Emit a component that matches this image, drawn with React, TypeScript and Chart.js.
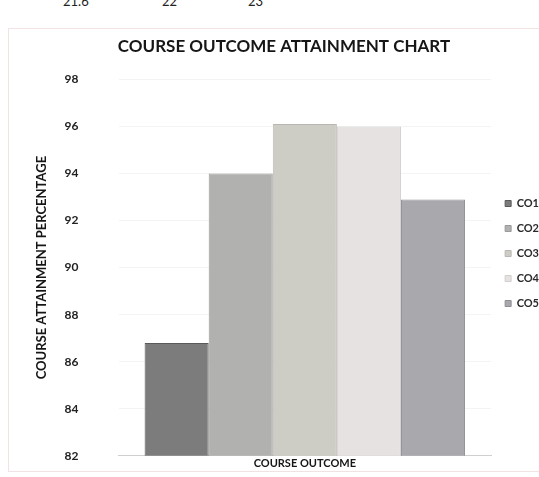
import React, { useEffect, useRef } from "react";
import { Chart, registerables } from "chart.js";

Chart.register(...registerables);

const categories = [""];
const seriesNames = ["CO1", "CO2", "CO3", "CO4", "CO5"];
const co1 = [86.8];
const co2 = [94.0];
const co3 = [96.1];
const co4 = [96.0];
const co5 = [92.9];
const seriesValues = [co1, co2, co3, co4, co5];
const seriesColors = ["#7c7c7c", "#b1b1af", "#cdcdc5", "#e6e2e2", "#a8a8ad"];
const seriesBorders = ["#5a5a5a", "#9a9a9a", "#b8b8b2", "#d2cece", "#8e8e94"];
const yMin = 82;
const yMax = 98;
const yStep = 2;
const topNumbers = ["21.6", "22", "23"];
const topNumberX = [63, 162, 248];

const chartTitle = "COURSE OUTCOME ATTAINMENT CHART";
const xTitle = "COURSE OUTCOME";
const yTitle = "COURSE ATTAINMENT PERCENTAGE";
const FONT = "Lato, 'Open Sans', sans-serif";

export default function App() {
  const canvasRef = useRef<HTMLCanvasElement | null>(null);

  useEffect(() => {
    document.body.style.margin = "0";
    const canvas = canvasRef.current;
    if (!canvas) return;
    const chart = new Chart(canvas, {
      type: "bar",
      data: {
        labels: categories,
        datasets: seriesNames.map((name, i) => ({
          label: name,
          data: seriesValues[i],
          backgroundColor: seriesColors[i],
          borderColor: seriesBorders[i],
          borderWidth: 1,
          barPercentage: 1,
          categoryPercentage: 0.86,
        })),
      },
      options: {
        animation: false,
        responsive: false,
        layout: { padding: { left: 10, right: 14, top: 0, bottom: 1 } },
        plugins: {
          title: {
            display: true,
            text: chartTitle,
            color: "#161616",
            font: { family: FONT, size: 17, weight: "bold" },
            padding: { top: 7, bottom: 23 },
          },
          legend: {
            position: "right",
            title: {
              display: true,
              text: "",
              font: { size: 5 },
              padding: { top: 1, bottom: 1 },
            },
            labels: {
              boxWidth: 6,
              boxHeight: 6,
              padding: 14,
              color: "#2a2a2a",
              font: { family: FONT, size: 11, weight: "bold" },
            },
          },
          tooltip: { enabled: false },
        },
        scales: {
          x: {
            ticks: { display: false, padding: 0 },
            grid: { display: false, drawTicks: false },
            border: { display: true, color: "#cfcfcf" },
            title: {
              display: true,
              text: xTitle,
              color: "#161616",
              font: { family: FONT, size: 11, weight: "bold" },
              padding: { top: 1, bottom: 0 },
            },
          },
          y: {
            min: yMin,
            max: yMax,
            ticks: {
              stepSize: yStep,
              padding: 3,
              color: "#222",
              font: { family: FONT, size: 12, weight: "bold" },
            },
            grid: {
              color: "rgba(0,0,0,0.045)",
              drawTicks: true,
              tickLength: 37,
              tickColor: "rgba(0,0,0,0)",
            },
            border: { display: false },
            title: {
              display: true,
              text: yTitle,
              color: "#161616",
              font: { family: FONT, size: 13, weight: "bold" },
              padding: { top: 15, bottom: 12 },
            },
          },
        },
      },
    });
    return () => chart.destroy();
  }, []);

  return (
    <div
      style={{
        position: "relative",
        width: 539,
        height: 477,
        overflow: "hidden",
        background: "#fff",
      }}
    >
      {topNumbers.map((t, i) => (
        <span
          key={t}
          style={{
            position: "absolute",
            left: topNumberX[i],
            top: -5,
            fontFamily: FONT,
            fontSize: 13,
            lineHeight: "13px",
            color: "#222",
          }}
        >
          {t}
        </span>
      ))}
      <div
        style={{
          position: "absolute",
          left: 8,
          top: 28,
          width: 556,
          height: 444,
          border: "1px solid #f2e2e2",
          boxSizing: "border-box",
        }}
      >
        <canvas ref={canvasRef} width={554} height={442} style={{ display: "block" }} />
      </div>
    </div>
  );
}
